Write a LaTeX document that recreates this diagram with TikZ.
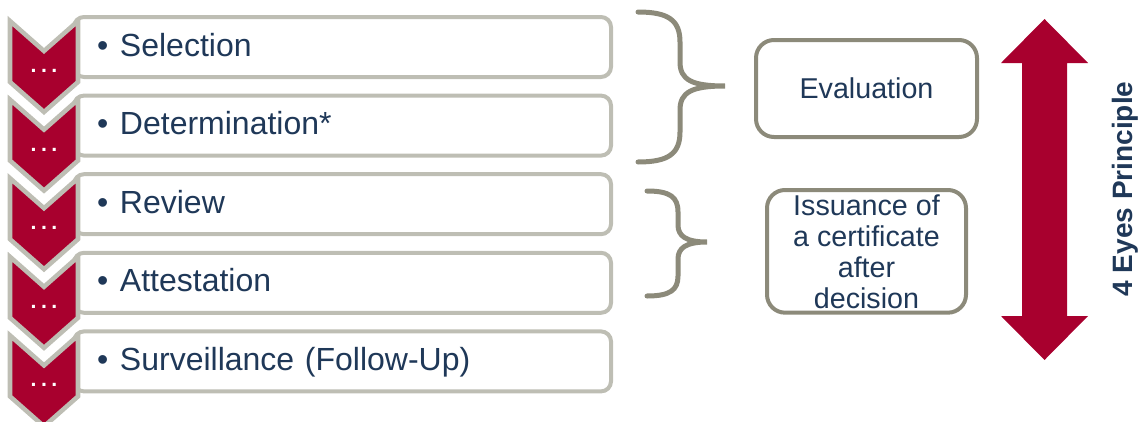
\documentclass[tikz,border=0pt]{standalone}
\usepackage{fontspec}
\setmainfont{Liberation Sans}
\usepackage{xcolor}
\usepackage{tikz}
\usetikzlibrary{positioning,calc}
\definecolor{CertRed}{RGB}{168,0,46}
\definecolor{CertNavy}{RGB}{31,56,88}
\definecolor{CertGrey}{RGB}{190,190,180}
\definecolor{CertOlive}{RGB}{140,138,122}
\tikzset{
    listbox/.style={rectangle, rounded corners=7.5pt, draw=CertGrey, line width=3pt, fill=white, outer sep=0pt,
        text width=368.25pt, inner xsep=17.25pt, inner ysep=0pt, minimum height=45pt,
        text height=18pt, text depth=4.5pt, align=left, text=CertNavy, font=\fontsize{24}{28}\selectfont},
    resultbox/.style={rectangle, rounded corners=13.5pt, draw=CertOlive, line width=3pt, fill=white,
        outer sep=0pt, align=center, text=CertNavy, font=\fontsize{21.5}{23.25}\selectfont},
    chevronline/.style={draw=CertGrey, fill=CertRed, line width=3.4pt, line join=miter},
    dotsnode/.style={text=white, font=\fontsize{16}{16}\selectfont\bfseries, inner sep=0pt},
    bracket/.style={draw=CertOlive, line width=3.75pt, line cap=round},
    chevron/.pic={
        \draw[chevronline] (-34,-26) -- (0,4) -- (34,-26) -- (34,35) -- (0,65) -- (-34,35) -- cycle;
        \node[dotsnode] (-dots) at (0,24) {.\hspace{3.4pt}.\hspace{3.4pt}.};
    }
}
\newcommand{\rowitem}[1]{\makebox[17.25pt][l]{\textbullet}#1}

\begin{document}
\begin{tikzpicture}[x=0.75pt, y=-0.75pt]
        \useasboundingbox (0,0) rectangle (1145,421);
        \clip (0,0) rectangle (1145,421);

        % --- PROCESS STEPS ---
        \node[listbox] (sel) at (342.5,47) {\rowitem{Selection}};
        \node[listbox, below=13.95pt of sel] (det) {\rowitem{Determination*}};
        \node[listbox, below=13.95pt of det] (rev) {\rowitem{Review}};
        \node[listbox, below=13.95pt of rev] (att) {\rowitem{Attestation}};
        \node[listbox, below=13.95pt of att] (sur) {\rowitem{Surveillance (Follow-Up)}};

        % Chevrons on the left of each step
        \pic (chev1) at ([xshift=-22.5pt]sel.west) {chevron};
        \pic (chev2) at ([xshift=-22.5pt]det.west) {chevron};
        \pic (chev3) at ([xshift=-22.5pt]rev.west) {chevron};
        \pic (chev4) at ([xshift=-22.5pt]att.west) {chevron};
        \pic (chev5) at ([xshift=-22.5pt]sur.west) {chevron};

        % --- RESULTS ---
        \node[resultbox, minimum width=165.75pt, minimum height=72.75pt] (eval) at (866.5,88.5) {Evaluation};
        \node[resultbox, minimum width=149.25pt, minimum height=92pt, inner sep=0pt,
            below=39.75pt of eval] (issue) {Issuance of\\a certificate\\after\\decision};

        % Braces grouping the steps
        \draw[bracket] (638,12) .. controls (668,12) and (680,20) .. (680,42) -- (680,62)
            .. controls (680,80) and (692,86) .. (725,86)
            .. controls (692,86) and (680,92) .. (680,110) -- (680,132)
            .. controls (680,154) and (668,162) .. (638,162);
        \draw[bracket] (647,191) .. controls (670,191) and (678,197) .. (678,212) -- (678,225)
            .. controls (678,236) and (686,242) .. (707,242)
            .. controls (686,242) and (678,248) .. (678,259) -- (678,276)
            .. controls (678,290) and (670,296) .. (647,296);

        % --- 4 EYES ARROW ---
        \coordinate (eyestop) at (1044.5,19);
        \coordinate (eyesbot) at (1044.5,360);
        \fill[CertRed] (eyestop) -- (1088,63) -- (1067,63) -- (1067,316) -- (1088,316) -- (eyesbot)
            -- (1001,316) -- (1022,316) -- (1022,63) -- (1001,63) -- cycle;
        \node[rotate=90, text=CertNavy, font=\fontsize{21}{24}\selectfont\bfseries] (eyes) at (1125,189) {4 Eyes Principle};

    \end{tikzpicture}
\end{document}
